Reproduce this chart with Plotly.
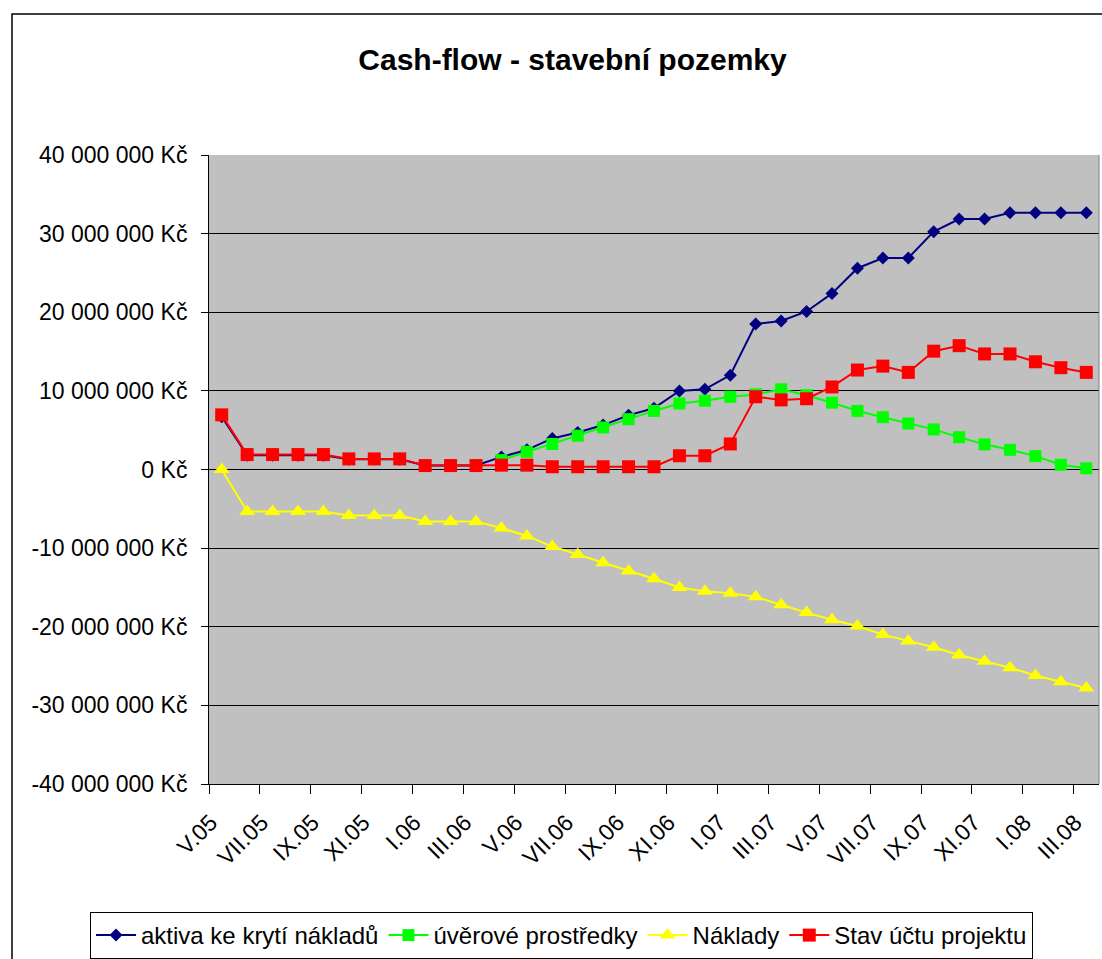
import plotly.graph_objects as go

months = ["V.05", "VI.05", "VII.05", "VIII.05", "IX.05", "X.05", "XI.05", "XII.05",
          "I.06", "II.06", "III.06", "IV.06", "V.06", "VI.06", "VII.06", "VIII.06",
          "IX.06", "X.06", "XI.06", "XII.06", "I.07", "II.07", "III.07", "IV.07",
          "V.07", "VI.07", "VII.07", "VIII.07", "IX.07", "X.07", "XI.07", "XII.07",
          "I.08", "II.08", "III.08"]

# values in millions of Kč
aktiva = [6.7, 1.8, 1.8, 1.8, 1.8, 1.3, 1.3, 1.3, 0.5, 0.5, 0.5, 1.6, 2.5, 3.95, 4.7,
          5.65, 6.9, 7.8, 10.0, 10.2, 12.0, 18.5, 18.9, 20.1, 22.4, 25.6, 26.9, 26.9,
          30.25, 31.85, 31.85, 32.65, 32.65, 32.65, 32.65]
uvery = [None] * 11 + [1.2, 2.25, 3.25, 4.3, 5.35, 6.4, 7.45, 8.4, 8.75, 9.25, 9.55,
                       10.2, 9.45, 8.5, 7.45, 6.65, 5.85, 5.1, 4.1, 3.2, 2.5, 1.7, 0.6, 0.15]
naklady = [0.0, -5.35, -5.35, -5.35, -5.35, -5.85, -5.85, -5.85, -6.6, -6.6, -6.6,
           -7.45, -8.45, -9.8, -10.8, -11.85, -12.9, -13.9, -15.0, -15.5, -15.75,
           -16.2, -17.2, -18.2, -19.1, -19.9, -21.0, -21.8, -22.6, -23.6, -24.4,
           -25.2, -26.2, -27.0, -27.8]
stav = [6.95, 1.9, 1.9, 1.9, 1.9, 1.35, 1.35, 1.35, 0.5, 0.5, 0.5, 0.55, 0.55, 0.35,
        0.35, 0.35, 0.35, 0.35, 1.75, 1.75, 3.25, 9.25, 8.85, 9.0, 10.5, 12.65, 13.15,
        12.35, 15.05, 15.75, 14.7, 14.7, 13.7, 12.95, 12.35]

series_names = ["aktiva ke krytí nákladů", "úvěrové prostředky", "Náklady", "Stav účtu projektu"]
series_colors = ["#000080", "#00FF00", "#FFFF00", "#FF0000"]
series_symbols = ["diamond", "square", "triangle-up", "square"]
series_sizes = [10, 12, 14, 13]

y_ticks = [-40, -30, -20, -10, 0, 10, 20, 30, 40]


def fmt(v):
    n = int(v * 1_000_000)
    s = f"{abs(n):,}".replace(",", " ")
    return ("-" if n < 0 else "") + s + " Kč"


FONT = "Liberation Sans, Arial, sans-serif"

fig = go.Figure()
for name, vals, col, sym, sz in zip(series_names, [aktiva, uvery, naklady, stav],
                                    series_colors, series_symbols, series_sizes):
    fig.add_trace(go.Scatter(
        x=months, y=[None if v is None else v * 1_000_000 for v in vals],
        name=name, mode="lines+markers",
        line=dict(color=col, width=2),
        marker=dict(symbol=sym, size=sz, color=col, line=dict(width=0)),
        connectgaps=False,
    ))

# helper trace for boundary tick marks
fig.add_trace(go.Scatter(x=[None], y=[None], xaxis="x2", showlegend=False, hoverinfo="skip"))

n = len(months)
fig.update_layout(
    width=1102, height=959,
    margin=dict(l=209, r=3, t=155, b=175, autoexpand=False),
    paper_bgcolor="white",
    plot_bgcolor="#C0C0C0",
    font=dict(family=FONT, color="black", size=23),
    title=dict(text="<b>Cash-flow - stavební pozemky</b>", font=dict(size=30, family=FONT),
               x=(572.5 - 209) / 890, xref="paper", xanchor="center",
               y=1 - 59 / 959, yanchor="middle"),
    xaxis=dict(type="category", categoryorder="array", categoryarray=months,
               range=[-0.5, n - 0.5], tickmode="array", tickvals=months[::2],
               ticktext=months[::2], tickangle=-45, ticks="", showgrid=False,
               showline=True, linecolor="black", linewidth=1, automargin=False,
               tickfont=dict(size=23, family=FONT),
               ticklabelstandoff=15, ticklabelshift=-11),
    xaxis2=dict(overlaying="x", anchor="y", side="bottom", range=[-0.5, n - 0.5],
                tickmode="array", tickvals=[i - 0.5 for i in range(0, n, 2)],
                ticks="outside", ticklen=9, tickcolor="black", tickwidth=1,
                showticklabels=False, showgrid=False, showline=False, zeroline=False,
                automargin=False),
    yaxis=dict(range=[-40_000_000, 40_000_000], tickmode="array",
               tickvals=[v * 1_000_000 for v in y_ticks],
               ticktext=[fmt(v) for v in y_ticks],
               ticks="outside", ticklen=7, tickcolor="black",
               showgrid=True, gridcolor="black", gridwidth=1,
               zeroline=False, showline=True, linecolor="black", linewidth=1,
               automargin=False,
               tickfont=dict(size=23, family=FONT), ticklabelstandoff=9),
    legend=dict(orientation="h", xref="paper", x=(90 - 209) / 890, xanchor="left",
                yref="paper", y=(784 - 912) / 629, yanchor="top",
                bordercolor="black", borderwidth=1, bgcolor="white",
                font=dict(size=24, family=FONT), itemwidth=40),
    shapes=[
        # right border of plot area
        dict(type="line", xref="paper", yref="paper", x0=1, x1=1, y0=0, y1=1,
             line=dict(color="#808080", width=1)),
        # chart area border
        dict(type="rect", xref="paper", yref="paper",
             x0=(12 - 209) / 890, x1=(1110 - 209) / 890,
             y0=(784 - 970) / 629, y1=(784 - 14) / 629,
             line=dict(color="black", width=1.5), layer="below"),
    ],
)

fig.write_html("out.html", config={"displayModeBar": False},
               post_script="document.body.style.margin='0';")
